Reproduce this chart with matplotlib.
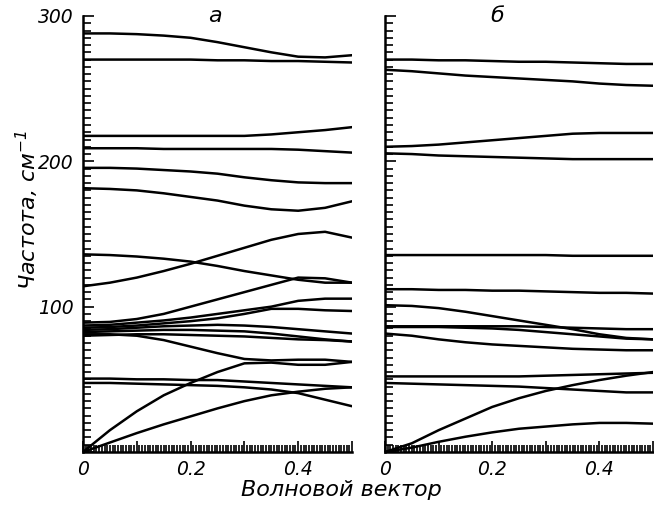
import numpy as np
import matplotlib.pyplot as plt
from matplotlib.ticker import MultipleLocator, FuncFormatter

# wave vector grid (reduced units)
q = [0, 0.05, 0.1, 0.15, 0.2, 0.25, 0.3, 0.35, 0.4, 0.45, 0.5]

# panel "а": dispersion branches, cm^-1
branches_a = [
    [288, 288, 287.5, 286.5, 285, 282, 278.5, 275, 272, 271.5, 273],
    [270, 270, 270, 270, 270, 269.5, 269.5, 269, 269, 268.5, 268],
    [217.5, 217.5, 217.5, 217.5, 217.5, 217.5, 217.5, 218.5, 220, 221.5, 223.5],
    [209, 209, 209, 208.5, 208.5, 208.5, 208.5, 208.5, 208, 207, 206],
    [195.5, 195.5, 195, 194, 193, 191.5, 189, 187, 185.5, 185, 185],
    [181.5, 181, 180, 178, 175.5, 173, 169.5, 167, 166, 168, 172.5],
    [114, 116.5, 120, 124.5, 129.5, 135, 140.5, 146, 150, 151.5, 147.5],
    [136, 135.5, 134.5, 133, 131, 128, 124.5, 121.5, 118.5, 116.5, 116.5],
    [89, 89.5, 91.5, 95, 100, 105, 110, 115, 120, 119.5, 116.5],
    [87, 87.5, 89, 90.5, 92.5, 95, 97.5, 100, 104, 105.5, 105.5],
    [85.5, 86, 87, 88.5, 90, 92, 95, 98.5, 98.5, 97.5, 97],
    [84, 84.5, 85.5, 86.5, 87, 87.5, 87, 86, 84.5, 83, 81.5],
    [82.5, 83, 83.5, 84, 84, 83.5, 83, 81.5, 79.5, 77.5, 76],
    [80, 80.5, 81, 81, 80.5, 80, 79.5, 78.5, 77.5, 77, 76],
    [81, 81, 80, 77, 72.5, 68, 64, 63, 63.5, 63.5, 62],
    [0, 15, 28, 39, 47.5, 55, 61, 61.5, 60, 60, 62],
    [50.5, 50.5, 50, 50, 49.5, 49.5, 48.5, 47.5, 46.5, 45.5, 44.5],
    [47.5, 47.5, 47, 46.5, 46, 45.5, 44.5, 43, 40.5, 36, 31.5],
    [0, 6.5, 13, 19, 24.5, 30, 35, 39, 41.5, 43.5, 44.5],
]

# panel "б"
branches_b = [
    [270, 270, 269.5, 269.5, 269, 268.5, 268.5, 268, 267.5, 267, 267],
    [263, 262, 260.5, 259, 258, 257, 256, 255, 253.5, 252.5, 252],
    [210, 210.5, 211.5, 213, 214.5, 216, 217.5, 219, 219.5, 219.5, 219.5],
    [205.5, 205, 204, 203.5, 203, 202.5, 202, 201.5, 201.5, 201.5, 201.5],
    [135.5, 135.5, 135.5, 135.5, 135.5, 135.5, 135.5, 135, 135, 135, 135],
    [112, 112, 111.5, 111.5, 111, 111, 110.5, 110, 109.5, 109.5, 109],
    [101, 100.5, 99, 96.5, 93.5, 90.5, 87.5, 84.5, 81, 78.5, 77.5],
    [86.5, 86.5, 86.5, 86.5, 86.5, 86.5, 86, 85.5, 85, 84.5, 84.5],
    [86, 86, 86, 85.5, 85, 84, 82.5, 81, 79.5, 78, 77.5],
    [81.5, 80, 77.5, 75.5, 74, 73, 72, 71, 70.5, 70, 70],
    [52, 52, 52, 52, 52, 52, 52.5, 53, 53.5, 54, 54.5],
    [47.5, 47, 46.5, 46, 45.5, 45, 44, 43, 42, 41, 41],
    [0, 6, 15, 23, 31, 37, 42, 46, 49.5, 52.5, 55],
    [0, 3, 7, 10.5, 13.5, 16, 17.5, 19, 20, 20, 19.5],
]

panel_names = ['а', 'б']
x_labels = {0.0: '0', 0.2: '0.2', 0.4: '0.4'}

plt.rcParams['font.family'] = 'DejaVu Sans'
plt.rcParams['font.style'] = 'italic'
plt.rcParams['mathtext.default'] = 'it'

fig = plt.figure(figsize=(6.54, 5.09), dpi=100)
ax_a = fig.add_axes([0.1269, 0.112, 0.4113, 0.8566])
ax_b = fig.add_axes([0.5887, 0.112, 0.4098, 0.8566])

def fmt(v, pos):
    return x_labels.get(round(v, 3), '')

for ax, branches, name, nx in [(ax_a, branches_a, panel_names[0], 0.245),
                               (ax_b, branches_b, panel_names[1], 0.21)]:
    for b in branches:
        ax.plot(q, b, color='black', lw=1.8, solid_capstyle='round')
    ax.set_xlim(0, 0.5)
    ax.set_ylim(0, 300)
    for s in ['top', 'right']:
        ax.spines[s].set_visible(False)
    for s in ['left', 'bottom']:
        ax.spines[s].set_linewidth(1.8)
    ax.xaxis.set_major_locator(MultipleLocator(0.1))
    ax.xaxis.set_minor_locator(MultipleLocator(0.005))
    ax.xaxis.set_major_formatter(FuncFormatter(fmt))
    ax.yaxis.set_major_locator(MultipleLocator(100))
    ax.yaxis.set_minor_locator(MultipleLocator(5))
    ax.tick_params(which='both', direction='in', width=1.2, labelsize=13.5)
    ax.tick_params(axis='x', which='major', length=8, pad=6)
    ax.tick_params(axis='x', which='minor', length=5)
    ax.tick_params(axis='y', which='major', length=8, pad=7)
    ax.tick_params(axis='y', which='minor', length=6)
    ax.text(nx, 300, name, fontsize=16, ha='center', va='center')

ax_a.yaxis.set_major_formatter(FuncFormatter(lambda v, p: '' if v == 0 else '%d' % v))
ax_b.tick_params(labelleft=False)

fig.text(0.042, 0.587, 'Частота, см$^{-1}$', rotation=90, fontsize=16,
         ha='center', va='center')
fig.text(0.522, 0.037, 'Волновой вектор', fontsize=16, ha='center', va='center')

fig.savefig('out.png', dpi=100)
